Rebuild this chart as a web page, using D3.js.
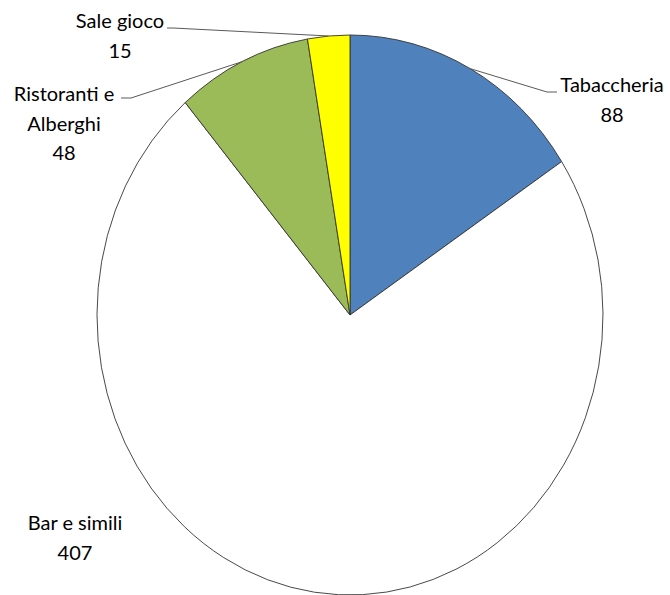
<!DOCTYPE html>
<html>
<head>
<meta charset="utf-8">
<script src="https://cdn.jsdelivr.net/npm/d3@7"></script>
<style>
  body { margin: 0; background: #fff; }
  text { font-family: Lato, "Open Sans", sans-serif; font-size: 20px; fill: #000; }
</style>
</head>
<body>
<svg id="chart" width="670" height="595"></svg>
<script>
// Data
const categories = ['Tabaccheria', 'Bar e simili', 'Ristoranti e Alberghi', 'Sale gioco'];
const values = [88, 407, 48, 15];
const colours = ['#4F81BD', '#FFFFFF', '#9BBB59', '#FFFF00'];

// Label lines and where each label block sits (text lines, anchor point)
const labelLines = [['Tabaccheria'], ['Bar e simili'], ['Ristoranti e', 'Alberghi'], ['Sale gioco']];
const labelPos = [
  { x: 612, y: 92, leader: [[557, 92], [547, 92]] },
  { x: 75, y: 530, leader: null },
  { x: 64, y: 101, leader: [[121, 98], [131, 98]] },
  { x: 120, y: 28, leader: [[167, 28], [173, 28]] }
];

const svg = d3.select('#chart');
const cx = 350, cy = 315;
const ry = 280, rx = 253;
const lineH = 29.5;

const pie = d3.pie().sort(null).value(d => d);
const arcs = pie(values);
const arc = d3.arc().innerRadius(0).outerRadius(ry);

// Pie is slightly squashed horizontally in the original, so scale x
const pieGroup = svg.append('g')
  .attr('transform', `translate(${cx},${cy}) scale(${rx / ry},1)`);

pieGroup.selectAll('path.slice').data(arcs)
  .enter().append('path')
    .attr('class', 'slice')
    .attr('d', arc)
    .attr('fill', (d, i) => colours[i])
    .attr('stroke', '#333')
    .attr('stroke-width', 0.9)
    .attr('stroke-linejoin', 'round')
    .attr('vector-effect', 'non-scaling-stroke');

// Point on the outer edge at the slice's mid angle
const edgePoint = d => {
  const a = (d.startAngle + d.endAngle) / 2;
  return [cx + rx * Math.sin(a), cy - ry * Math.cos(a)];
};

// Leader lines
arcs.forEach((d, i) => {
  const p = labelPos[i];
  if (!p.leader) return;
  const pts = [p.leader[0], p.leader[1], edgePoint(d)];
  svg.append('path')
    .attr('d', d3.line()(pts))
    .attr('fill', 'none')
    .attr('stroke', '#595959')
    .attr('stroke-width', 1);
});

// Labels
arcs.forEach((d, i) => {
  const p = labelPos[i];
  const lines = labelLines[i].concat([String(values[i])]);
  const t = svg.append('text')
    .attr('text-anchor', 'middle')
    .attr('x', p.x)
    .attr('y', p.y);
  lines.forEach((l, j) => {
    t.append('tspan')
      .attr('x', p.x)
      .attr('dy', j === 0 ? 0 : lineH)
      .text(l);
  });
});
</script>
</body>
</html>
